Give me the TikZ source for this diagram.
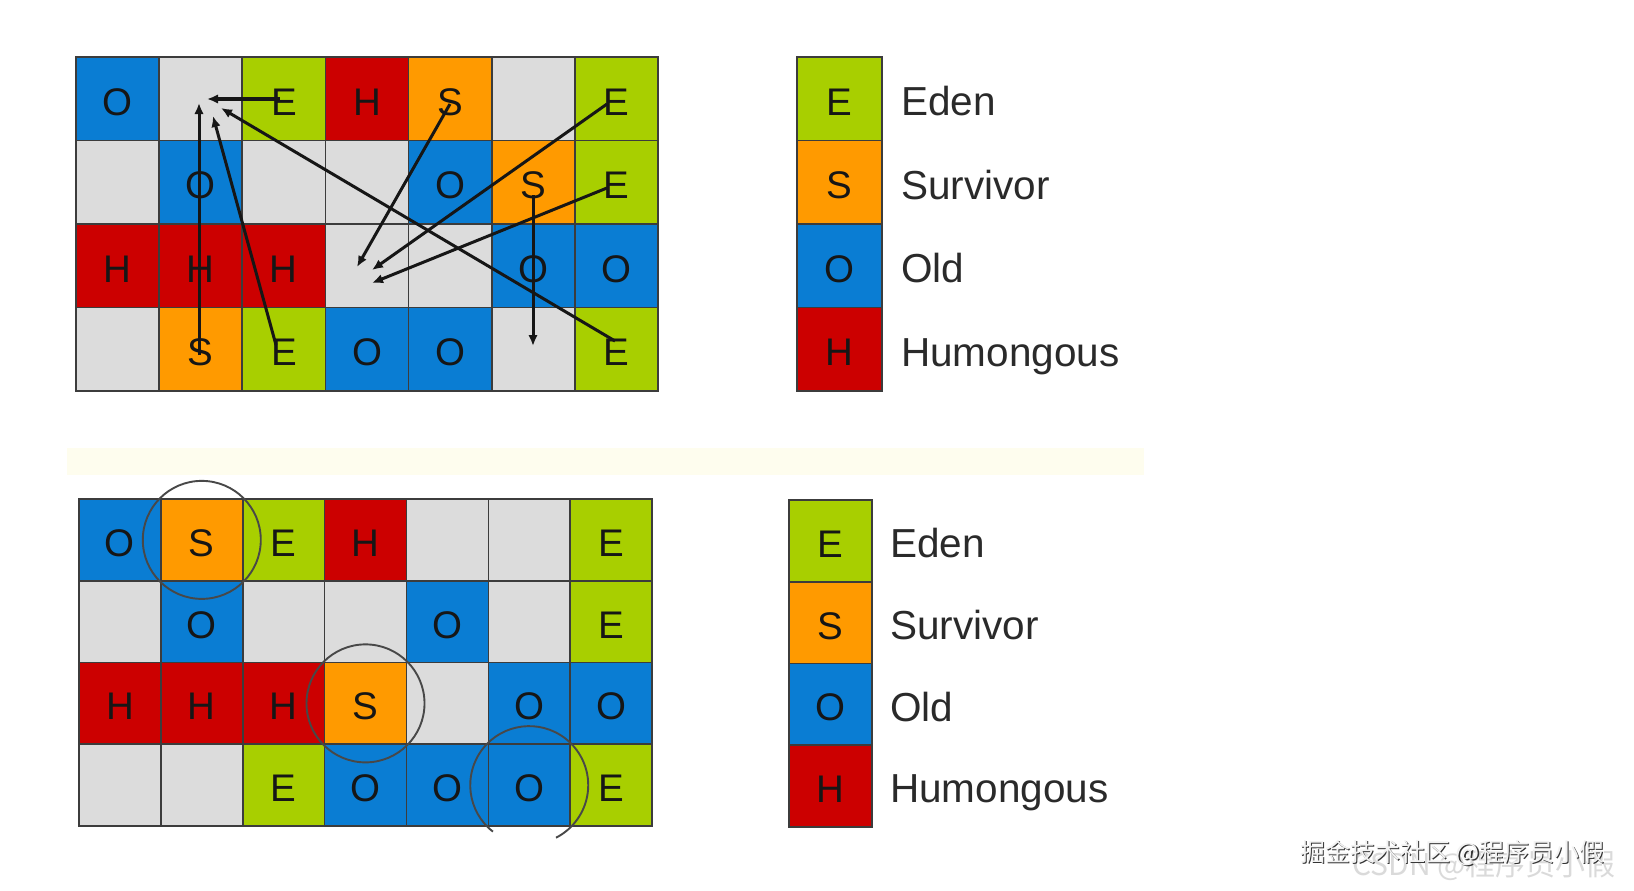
\documentclass[tikz,border=0pt]{standalone}
\usepackage{fontspec}
\setmainfont{Liberation Sans}
\newfontfamily\cjkfont{Noto Sans CJK SC}
\usetikzlibrary{arrows.meta}
\definecolor{cE}{HTML}{A8CF00}
\definecolor{cS}{HTML}{FF9A00}
\definecolor{cO}{HTML}{0A7DD3}
\definecolor{cH}{HTML}{CC0000}
\definecolor{cN}{HTML}{DCDCDC}
\definecolor{cLine}{HTML}{3C3C3C}
\definecolor{cInk}{HTML}{161616}
\definecolor{cLab}{HTML}{2A2A2A}
\definecolor{cRing}{HTML}{484848}
\definecolor{cBand}{HTML}{FEFDEE}
\definecolor{cWmA}{HTML}{DADADA}
\definecolor{cWmB}{HTML}{F2F2F2}
\begin{document}
\begin{tikzpicture}[x=1pt,y=-1pt,
  cell/.style={draw=cLine, line width=1.6pt, inner sep=0pt, text=cInk,
    font=\fontsize{38.5}{38.5}\selectfont, anchor=center,
    text height=33pt, text depth=0pt},
  tsize/.style={minimum width=83.14pt, minimum height=83.5pt},
  bsize/.style={minimum width=81.86pt, minimum height=81.75pt},
  kE/.style={fill=cE, node contents=E},
  kS/.style={fill=cS, node contents=S},
  kO/.style={fill=cO, node contents=O},
  kH/.style={fill=cH, node contents=H},
  kN/.style={fill=cN, node contents={}},
  lab/.style={font=\fontsize{40.5}{40.5}\selectfont, text=cLab, inner sep=0pt, anchor=base west},
  mover/.style={draw=cInk, line width=3pt, -{Latex[length=11pt,width=9.5pt]}},
  ring/.style={draw=cRing, line width=1.9pt},
  wm/.style={inner sep=0pt, anchor=base west}
]
\fill[white] (0,0) rectangle (1634,891);
\useasboundingbox (0,0) rectangle (1634,891);

% ---------- top heap ----------
\foreach \row [count=\r from 0] in {{O,N,E,H,S,N,E},{N,O,N,N,O,S,E},{H,H,H,N,N,O,O},{N,S,E,O,O,N,E}} {
  \foreach \k [count=\c from 0] in \row {
    \node[cell, tsize, k\k, name=t-\r-\c, at={(117.57+\c*83.14, 98.75+\r*83.5)}];
  }
}

% arrow end points
\coordinate (a1s) at (280,99);  \coordinate (a1e) at (207,99);
\coordinate (a2s) at (199,355); \coordinate (a2e) at (199,103);
\coordinate (a3s) at (276,345); \coordinate (a3e) at (213,116);
\coordinate (a4s) at (615,341); \coordinate (a4e) at (221,108);
\coordinate (a5s) at (450,104); \coordinate (a5e) at (357,267);
\coordinate (a6s) at (607,104); \coordinate (a6e) at (372,270);
\coordinate (a7s) at (607,188); \coordinate (a7e) at (372,283);
\coordinate (a8s) at (533,195); \coordinate (a8e) at (533,346);
\foreach \i in {1,...,8} { \draw[mover] (a\i s) -- (a\i e); }

% top legend
\foreach \k/\lab [count=\r from 0] in {E/Eden,S/Survivor,O/Old,H/Humongous} {
  \node[cell, minimum width=85pt, minimum height=83.5pt, k\k, name=tl-\r, at={(839.5, 98.75+\r*83.5)}];
  \node[lab] (tt-\r) at (901, 115.5+\r*83.5) {\lab};
}

% divider band
\fill[cBand] (67,448) rectangle (1144,475);

% ---------- bottom heap ----------
\foreach \row [count=\r from 0] in {{O,S,E,H,N,N,E},{N,O,N,N,O,N,E},{H,H,H,S,N,O,O},{N,N,E,O,O,O,E}} {
  \foreach \k [count=\c from 0] in \row {
    \node[cell, bsize, k\k, name=b-\r-\c, at={(119.93+\c*81.86, 539.88+\r*81.75)}];
  }
}

% bottom legend
\foreach \k/\lab [count=\r from 0] in {E/Eden,S/Survivor,O/Old,H/Humongous} {
  \node[cell, minimum width=83pt, minimum height=81.75pt, k\k, name=bl-\r, at={(830.5, 540.88+\r*81.75)}];
  \node[lab] (bt-\r) at (890, 557.5+\r*81.75) {\lab};
}

% highlight rings
\draw[ring] (b-0-1.center) circle[radius=59];
\draw[ring] (b-2-3.center) circle[radius=59];
\draw[ring] (b-3-5.center) ++(128:59) arc[start angle=128, end angle=423, radius=59];

% watermark
\node[wm, text=cWmA, font=\cjkfont\fontsize{30}{30}\selectfont] (wmb) at (1352,875) {CSDN @程序员小假};
\node[wm, text=black!80, font=\cjkfont\fontsize{25}{25}\selectfont] (wmas) at (1301.3,862.3) {掘金技术社区 @程序员小假};
\node[wm, text=cWmB, font=\cjkfont\fontsize{25}{25}\selectfont] (wma) at (1300,861) {掘金技术社区 @程序员小假};
\end{tikzpicture}
\end{document}
